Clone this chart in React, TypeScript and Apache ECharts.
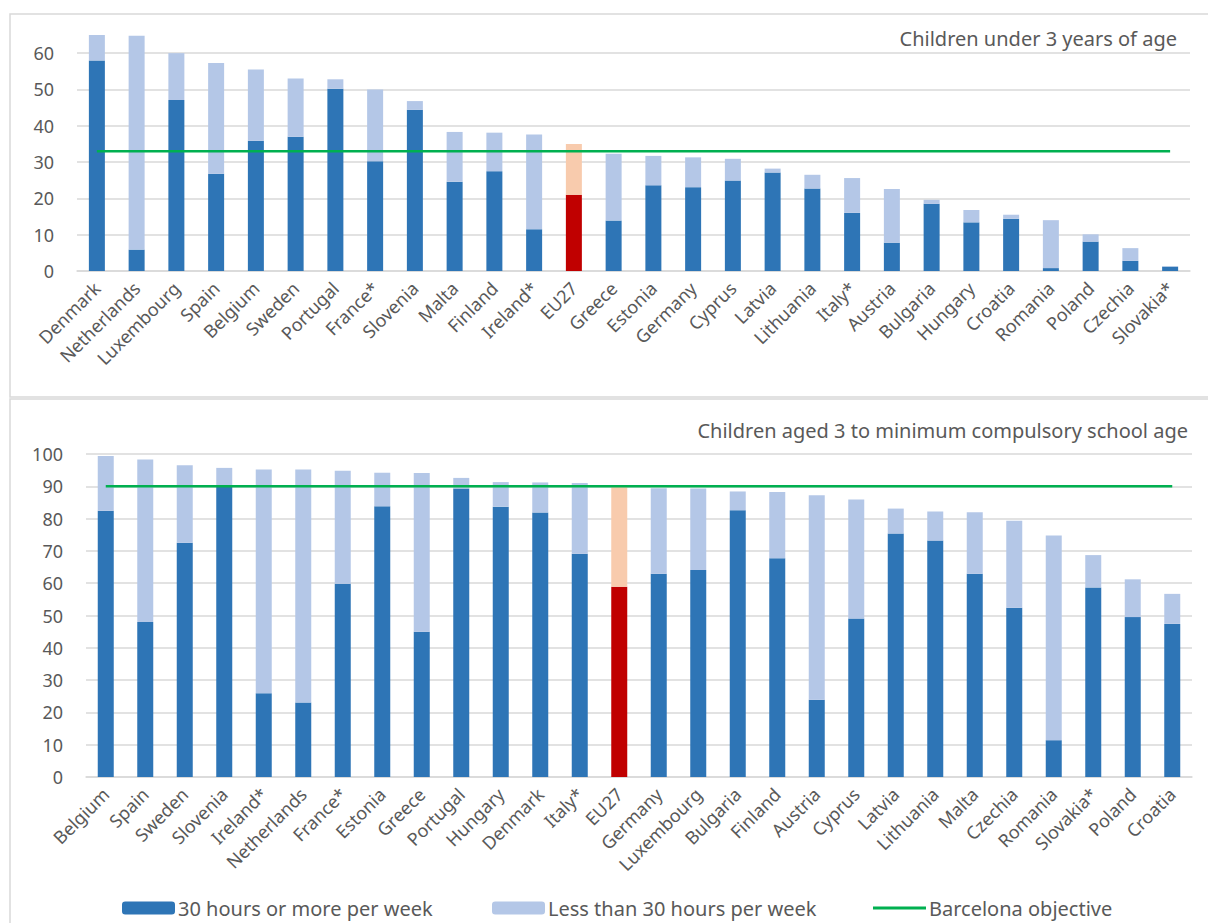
import React, { useEffect, useRef } from "react";
import * as echarts from "echarts";

const topCategories = ["Denmark", "Netherlands", "Luxembourg", "Spain", "Belgium", "Sweden", "Portugal", "France*", "Slovenia", "Malta", "Finland", "Ireland*", "EU27", "Greece", "Estonia", "Germany", "Cyprus", "Latvia", "Lithuania", "Italy*", "Austria", "Bulgaria", "Hungary", "Croatia", "Romania", "Poland", "Czechia", "Slovakia*"];
const topFullTime = [58.0, 5.9, 47.1, 26.8, 35.9, 37.0, 50.2, 30.2, 44.4, 24.6, 27.5, 11.5, 21.0, 13.9, 23.6, 23.1, 24.9, 27.1, 22.7, 16.0, 7.8, 18.5, 13.4, 14.4, 0.8, 8.1, 2.8, 1.2];
const topPartTime = [7.0, 58.9, 12.9, 30.5, 19.6, 16.0, 2.6, 19.8, 2.4, 13.7, 10.6, 26.1, 14.0, 18.4, 8.1, 8.2, 6.0, 1.1, 3.8, 9.6, 14.8, 1.1, 3.4, 1.1, 13.2, 2.0, 3.5, 0.1];
const topObjective = 33;
const topTicks = [0, 10, 20, 30, 40, 50, 60];

const bottomCategories = ["Belgium", "Spain", "Sweden", "Slovenia", "Ireland*", "Netherlands", "France*", "Estonia", "Greece", "Portugal", "Hungary", "Denmark", "Italy*", "EU27", "Germany", "Luxembourg", "Bulgaria", "Finland", "Austria", "Cyprus", "Latvia", "Lithuania", "Malta", "Czechia", "Romania", "Slovakia*", "Poland", "Croatia"];
const bottomFullTime = [82.4, 48.0, 72.5, 89.9, 25.9, 23.1, 59.8, 83.8, 45.0, 89.3, 83.7, 81.9, 69.1, 58.9, 62.9, 64.1, 82.6, 67.7, 23.9, 49.1, 75.4, 73.2, 62.9, 52.4, 11.4, 58.7, 49.5, 47.4];
const bottomPartTime = [17.0, 50.3, 24.0, 5.8, 69.3, 72.1, 35.0, 10.4, 49.1, 3.3, 7.6, 9.3, 21.9, 30.9, 26.5, 25.2, 5.8, 20.5, 63.3, 36.8, 7.7, 9.0, 19.1, 26.9, 63.4, 10.0, 11.7, 9.3];
const bottomObjective = 90;
const bottomTicks = [0, 10, 20, 30, 40, 50, 60, 70, 80, 90, 100];

const topTitle = "Children under 3 years of age";
const bottomTitle = "Children aged 3 to minimum compulsory school age";
const seriesNames = ["30 hours or more per week", "Less than 30 hours per week", "Barcelona objective"];

const DARK = "#2E75B6";
const LIGHT = "#B4C7E7";
const EU_DARK = "#C00000";
const EU_LIGHT = "#F8CBAD";
const GREEN = "#00B050";
const GRID = "#D9D9D9";
const TEXT = "#595959";
const FONT = "'Noto Sans', sans-serif";

function barData(cats: string[], vals: number[], euColor: string) {
  return vals.map((v, i) =>
    cats[i] === "EU27" ? { value: v, itemStyle: { color: euColor } } : v
  );
}

export default function App() {
  const ref = useRef<HTMLDivElement>(null);
  useEffect(() => {
    if (!ref.current) return;
    const chart = echarts.init(ref.current, null, { renderer: "svg" });
    const xAxisCommon = {
      type: "category" as const,
      axisTick: { show: false },
      axisLine: { lineStyle: { color: GRID, width: 1.5 } },
      axisLabel: {
        interval: 0,
        rotate: 45,
        color: TEXT,
        fontSize: 18,
        fontFamily: FONT,
        margin: 14,
      },
    };
    const yAxisCommon = {
      type: "value" as const,
      min: 0,
      interval: 10,
      axisLine: { show: false },
      axisTick: { show: false },
      axisLabel: { color: TEXT, fontSize: 18, fontFamily: FONT, margin: 23, showMaxLabel: false },
      splitLine: { lineStyle: { color: GRID, width: 1.5 } },
    };
    const legendCommon = {
      top: 898,
      padding: 0,
      itemWidth: 53,
      itemHeight: 13,
      textStyle: { color: TEXT, fontSize: 20, fontFamily: FONT, padding: [0, 0, 0, -2] },
    };
    const option: any = {
      animation: false,
      textStyle: { fontFamily: FONT },
      grid: [
        { left: 77, right: 18, top: 35, height: 236 },
        { left: 86, right: 16, top: 454, height: 323 },
      ],
      xAxis: [
        { ...xAxisCommon, gridIndex: 0, data: topCategories },
        { ...xAxisCommon, gridIndex: 1, data: bottomCategories },
      ],
      yAxis: [
        {
          ...yAxisCommon,
          gridIndex: 0,
          max: 65,
          axisLabel: { ...yAxisCommon.axisLabel, formatter: (v: number) => (topTicks.includes(v) ? String(v) : "") },
          splitLine: { ...yAxisCommon.splitLine, showMaxLine: false },
        },
        {
          ...yAxisCommon,
          gridIndex: 1,
          max: 100,
          axisLabel: { ...yAxisCommon.axisLabel, showMaxLabel: true, formatter: (v: number) => (bottomTicks.includes(v) ? String(v) : "") },
        },
      ],
      legend: [
        { ...legendCommon, left: 122, data: [seriesNames[0]] },
        { ...legendCommon, left: 492, data: [seriesNames[1]] },
        {
          ...legendCommon,
          left: 873,
          data: [{ name: seriesNames[2], icon: "path://M0,0 L53,0 L53,3 L0,3 Z" }],
        },
      ],
      series: [
        {
          name: seriesNames[0], type: "bar", xAxisIndex: 0, yAxisIndex: 0, stack: "top",
          barWidth: 16, itemStyle: { color: DARK }, data: barData(topCategories, topFullTime, EU_DARK),
        },
        {
          name: seriesNames[1], type: "bar", xAxisIndex: 0, yAxisIndex: 0, stack: "top",
          barWidth: 16, itemStyle: { color: LIGHT }, data: barData(topCategories, topPartTime, EU_LIGHT),
        },
        {
          name: seriesNames[2], type: "line", xAxisIndex: 0, yAxisIndex: 0, symbol: "none",
          lineStyle: { color: GREEN, width: 2.5 }, itemStyle: { color: GREEN },
          data: topCategories.map(() => topObjective),
        },
        {
          name: seriesNames[0], type: "bar", xAxisIndex: 1, yAxisIndex: 1, stack: "bottom",
          barWidth: 16, itemStyle: { color: DARK }, data: barData(bottomCategories, bottomFullTime, EU_DARK),
        },
        {
          name: seriesNames[1], type: "bar", xAxisIndex: 1, yAxisIndex: 1, stack: "bottom",
          barWidth: 16, itemStyle: { color: LIGHT }, data: barData(bottomCategories, bottomPartTime, EU_LIGHT),
        },
        {
          name: seriesNames[2], type: "line", xAxisIndex: 1, yAxisIndex: 1, symbol: "none",
          lineStyle: { color: GREEN, width: 2.5 }, itemStyle: { color: GREEN },
          data: bottomCategories.map(() => bottomObjective),
        },
      ],
      graphic: [
        { type: "rect", shape: { x: 10, y: 14, width: 1220, height: 383 }, style: { fill: "none", stroke: GRID, lineWidth: 1.5 }, silent: true },
        { type: "rect", shape: { x: 10, y: 399, width: 1220, height: 560 }, style: { fill: "none", stroke: GRID, lineWidth: 1.5 }, silent: true },
        { type: "text", x: 1177, y: 38, style: { text: topTitle, fill: TEXT, fontSize: 20, fontFamily: FONT, align: "right", verticalAlign: "middle" } },
        { type: "text", x: 1188, y: 430, style: { text: bottomTitle, fill: TEXT, fontSize: 20, fontFamily: FONT, align: "right", verticalAlign: "middle" } },
      ],
    };
    chart.setOption(option);
    return () => chart.dispose();
  }, []);
  return (
    <div
      ref={ref}
      style={{ position: "absolute", left: 0, top: 0, width: 1208, height: 923, background: "#fff" }}
    />
  );
}
